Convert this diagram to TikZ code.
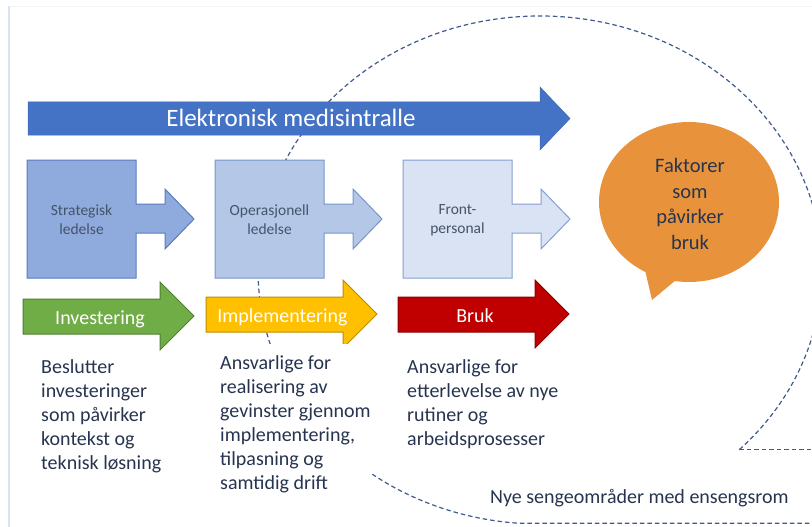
\documentclass[tikz,border=0pt]{standalone}
\usepackage{fontspec}
\setmainfont{Carlito}
\definecolor{emrblue}{HTML}{4472C4}
\definecolor{emredge}{HTML}{3E68B5}
\definecolor{stratfill}{HTML}{8FAADC}
\definecolor{stratedge}{HTML}{5B7BBE}
\definecolor{opfill}{HTML}{B4C7E7}
\definecolor{opedge}{HTML}{7895CB}
\definecolor{frontfill}{HTML}{DAE3F3}
\definecolor{frontedge}{HTML}{859FD2}
\definecolor{invgreen}{HTML}{70AD47}
\definecolor{invedge}{HTML}{507E32}
\definecolor{impyellow}{HTML}{FFC000}
\definecolor{impedge}{HTML}{BC8C00}
\definecolor{brukred}{HTML}{C00000}
\definecolor{brukedge}{HTML}{8B0000}
\definecolor{bubble}{HTML}{E8933B}
\definecolor{ringblue}{HTML}{3F5A8C}
\definecolor{navytext}{HTML}{27344F}
\definecolor{boxtext}{HTML}{44546A}
\definecolor{frameleft}{HTML}{D9E2F3}
\definecolor{frametop}{HTML}{F2F3F9}
\begin{document}
\begin{tikzpicture}[x=1pt,y=-1pt,
  boxlabel/.style={font=\fontsize{15.5}{19}\selectfont, text=boxtext, align=center, inner sep=0},
  whitelabel/.style={text=white, inner sep=0, anchor=base},
  bodytext/.style={font=\fontsize{20}{24}\selectfont, text=navytext, align=left, inner sep=0, anchor=north west},
  ring/.style={draw=ringblue, line width=1.2pt, dash pattern=on 4.5pt off 3pt},
  boxarrow/.pic={\path[pic actions] (0,0) -- (109,0) -- (109,44) -- (138,44) -- (138,29)
     -- (167,59) -- (138,89) -- (138,73) -- (109,73) -- (109,118) -- (0,118) -- cycle;},
  bararrow/.pic={\path[pic actions] (0,17) -- (137,17) -- (137,0) -- (171,34)
     -- (137,68) -- (137,52) -- (0,52) -- cycle;}]
\useasboundingbox (0,0) rectangle (812,527);
\clip (0,0) rectangle (812,527);

% page frame
\draw[frameleft, line width=1.5pt] (9,6.5) -- (9,527);
\draw[frametop, line width=1.5pt] (9,6.5) -- (812,6.5);

% dashed ward outline
\draw[ring] (739.4,449.6) arc[start angle=-45, end angle=265.5, x radius=282pt, y radius=254pt] -- (812,523.2);
\draw[ring] (739.4,449.6) -- (812,449.6);

% electronic medication chart arrow
\path[fill=emrblue, draw=emredge, line width=0.5pt]
  (28,102) -- (540,102) -- (540,87) -- (570,118.5) -- (540,150) -- (540,135) -- (28,135) -- cycle;
\node[whitelabel, font=\fontsize{25}{30}\selectfont] (emr) at (291,127) {Elektronisk medisintralle};

% management levels
\pic[fill=stratfill, draw=stratedge, line width=1pt] at (27,160) {boxarrow};
\pic[fill=opfill, draw=opedge, line width=1pt] at (215,160) {boxarrow};
\pic[fill=frontfill, draw=frontedge, line width=1pt] at (403,160) {boxarrow};
\node[boxlabel] (strat) at (81.5,220) {Strategisk\\ledelse};
\node[boxlabel] (oper) at (269.5,220) {Operasjonell\\ledelse};
\node[boxlabel] (front) at (457.5,220) {Front-\\personal};

% phase arrows
\pic[fill=invgreen, draw=invedge, line width=1pt] at (23,282) {bararrow};
\pic[fill=impyellow, draw=impedge, line width=1pt] at (206,280) {bararrow};
\pic[fill=brukred, draw=brukedge, line width=1pt] at (398,280) {bararrow};
\node[whitelabel, font=\fontsize{20}{24}\selectfont] (inv) at (100,324) {Investering};
\node[whitelabel, font=\fontsize{20}{24}\selectfont] (imp) at (282.5,322) {Implementering};
\node[whitelabel, font=\fontsize{20}{24}\selectfont] (bruk) at (475,322) {Bruk};

% speech bubble
\fill[bubble] (689,202) ellipse[x radius=90pt, y radius=80pt];
\fill[bubble] (645,270) -- (652,300) -- (676,280) -- cycle;
\node[font=\fontsize{20.5}{25.7}\selectfont, text=navytext, align=center, inner sep=0] (faktorer) at (690,204)
  {Faktorer\\som\\påvirker\\bruk};

% descriptions (the middle one sits on a white text box)
\fill[white] (215,344) rectangle (376,474);
\node[bodytext] (desc1) at (41,359) {Beslutter\\investeringer\\som påvirker\\kontekst og\\teknisk løsning};
\node[bodytext] (desc2) at (220,355) {Ansvarlige for\\realisering av\\gevinster gjennom\\implementering,\\tilpasning og\\samtidig drift};
\node[bodytext] (desc3) at (407,359) {Ansvarlige for\\etterlevelse av nye\\rutiner og\\arbeidsprosesser};
\node[font=\fontsize{20}{24}\selectfont, text=navytext, inner sep=0, anchor=base west] (ward) at (490,503)
  {Nye sengeområder med ensengsrom};
\end{tikzpicture}
\end{document}
